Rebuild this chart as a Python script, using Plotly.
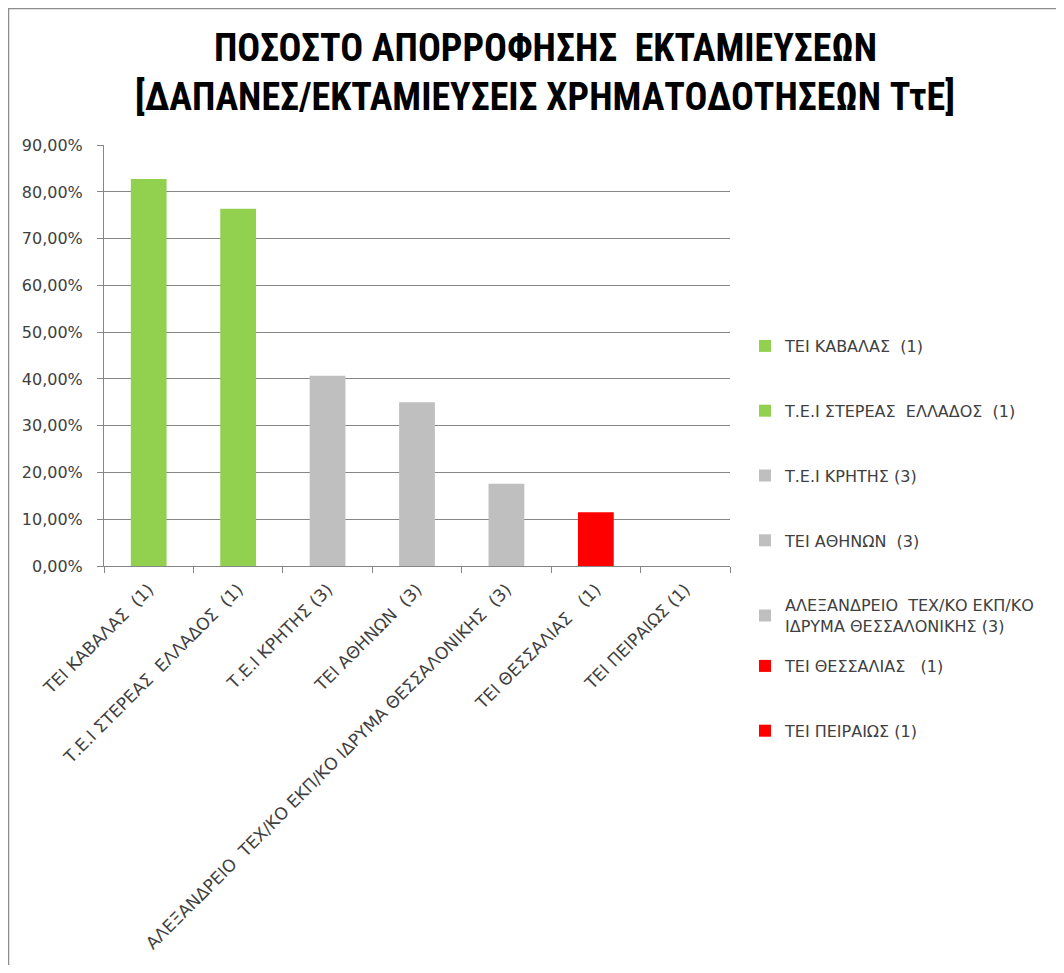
import plotly.graph_objects as go

categories = [
    "ΤΕΙ ΚΑΒΑΛΑΣ  (1)",
    "Τ.Ε.Ι ΣΤΕΡΕΑΣ  ΕΛΛΑΔΟΣ  (1)",
    "Τ.Ε.Ι ΚΡΗΤΗΣ (3)",
    "ΤΕΙ ΑΘΗΝΩΝ  (3)",
    "ΑΛΕΞΑΝΔΡΕΙΟ  ΤΕΧ/ΚΟ ΕΚΠ/ΚΟ ΙΔΡΥΜΑ ΘΕΣΣΑΛΟΝΙΚΗΣ  (3)",
    "ΤΕΙ ΘΕΣΣΑΛΙΑΣ   (1)",
    "ΤΕΙ ΠΕΙΡΑΙΩΣ (1)",
]
legend_names = [
    "ΤΕΙ ΚΑΒΑΛΑΣ  (1)",
    "Τ.Ε.Ι ΣΤΕΡΕΑΣ  ΕΛΛΑΔΟΣ  (1)",
    "Τ.Ε.Ι ΚΡΗΤΗΣ (3)",
    "ΤΕΙ ΑΘΗΝΩΝ  (3)",
    "ΑΛΕΞΑΝΔΡΕΙΟ  ΤΕΧ/ΚΟ ΕΚΠ/ΚΟ<br>ΙΔΡΥΜΑ ΘΕΣΣΑΛΟΝΙΚΗΣ (3)",
    "ΤΕΙ ΘΕΣΣΑΛΙΑΣ   (1)",
    "ΤΕΙ ΠΕΙΡΑΙΩΣ (1)",
]
values = [0.828, 0.764, 0.407, 0.350, 0.176, 0.115, 0.0]
colors = ["#92D050", "#92D050", "#BFBFBF", "#BFBFBF", "#BFBFBF", "#FF0000", "#FF0000"]
y_ticks = [0, 0.1, 0.2, 0.3, 0.4, 0.5, 0.6, 0.7, 0.8, 0.9]
title_lines = [
    "ΠΟΣΟΣΤΟ ΑΠΟΡΡΟΦΗΣΗΣ  ΕΚΤΑΜΙΕΥΣΕΩΝ",
    "[ΔΑΠΑΝΕΣ/ΕΚΤΑΜΙΕΥΣΕΙΣ ΧΡΗΜΑΤΟΔΟΤΗΣΕΩΝ ΤτΕ]",
]

FONT = "DejaVu Sans, Verdana, sans-serif"
TFONT = "Liberation Sans Narrow, Roboto Condensed, Liberation Sans, sans-serif"

fig = go.Figure()
for i, (cat, name, v, c) in enumerate(zip(categories, legend_names, values, colors)):
    fig.add_trace(go.Bar(x=[cat], y=[v], name=name, marker=dict(color=c, line=dict(width=0)),
                         legendgroup=name, legend="legend" if i < 5 else "legend2"))

# page has an 8px body margin, so figure coords = page coords - 8
W, H = 1048, 957
L, R, T, B = 96, 722, 137, 558
pw, ph = R - L, B - T

annotations = []
for line, ypx in zip(title_lines, [40, 89]):
    annotations.append(dict(
        text="<b>" + line + "</b>", xref="paper", yref="paper",
        x=(537 - L) / pw, y=(B - ypx) / ph, xanchor="center", yanchor="middle",
        showarrow=False, font=dict(family=TFONT, size=38, color="#000000"),
    ))

legend_common = dict(
    x=(737 - L) / pw, xanchor="left", yanchor="top",
    traceorder="grouped", tracegroupgap=41,
    font=dict(family=FONT, size=16, color="#404040"),
    bgcolor="rgba(0,0,0,0)", maxheight=700, itemclick=False,
)

fig.update_layout(
    width=W, height=H,
    margin=dict(l=L, r=W - R, t=T, b=H - B),
    paper_bgcolor="white", plot_bgcolor="white",
    barmode="overlay", bargap=0.6,
    separators=",.",
    font=dict(family=FONT, size=16, color="#404040"),
    annotations=annotations,
    legend=dict(y=(B - 321) / ph, **legend_common),
    legend2=dict(y=(B - 641) / ph, **legend_common),
    xaxis=dict(
        type="category", categoryorder="array", categoryarray=categories,
        tickangle=-45, tickson="boundaries", ticks="outside", ticklen=6,
        tickcolor="#868686", showline=True, linecolor="#868686", linewidth=1,
        showgrid=False, tickfont=dict(size=17, color="#404040"),
        ticklabelstandoff=6,
    ),
    yaxis=dict(
        range=[0, 0.9005], tickvals=y_ticks, tickformat=".2%",
        ticks="outside", ticklen=6, tickcolor="#868686",
        showline=True, linecolor="#868686", linewidth=1,
        showgrid=True, gridcolor="#868686", gridwidth=1,
        zeroline=False, tickfont=dict(size=16, color="#404040"),
        ticklabelstandoff=11,
    ),
    shapes=[
        dict(type="rect", xref="paper", yref="paper",
             x0=(0.5 - L) / pw, x1=(W + 10 - L) / pw,
             y0=(B - (H + 10)) / ph, y1=(B - 0.5) / ph,
             line=dict(color="#8c8c8c", width=1.5), fillcolor="rgba(0,0,0,0)", layer="below"),
    ],
)

fig.write_html("out.html")
